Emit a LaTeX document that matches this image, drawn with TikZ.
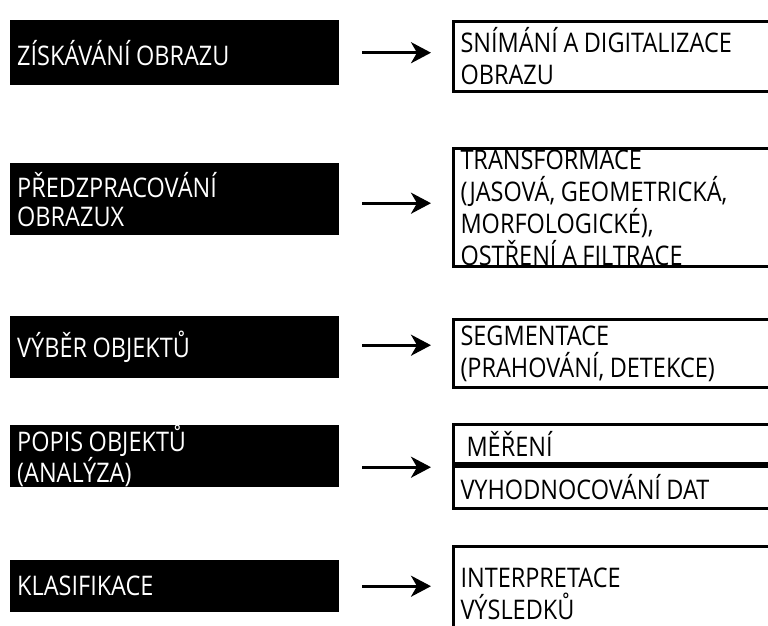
\documentclass[tikz,border=0pt]{standalone}
\usepackage{fontspec}
\setmainfont{Open Sans}[FakeStretch=0.87]
\usetikzlibrary{arrows.meta}
\newcommand\myleftfont{\fontsize{27}{29}\selectfont\spaceskip=5.5pt plus 1pt\relax}
\newcommand\myrightfont{\fontsize{27}{32}\selectfont\spaceskip=5.5pt plus 1pt\relax}
\tikzset{
  blackbox/.style={fill=black, text=white, anchor=north west, minimum width=327pt,
    text width=315pt, inner xsep=7pt, inner ysep=0pt, align=left,
    execute at begin node=\myleftfont},
  whitebox/.style={draw=black, line width=3pt, fill=white, anchor=north west,
    minimum width=360pt, text width=348pt, inner xsep=7pt, inner ysep=0pt, align=left,
    execute at begin node=\myrightfont},
  arr/.style={line width=3pt, -{Stealth[length=20pt,width=21pt,inset=6pt]},
    shorten <=23pt, shorten >=21pt}
}
\begin{document}
\begin{tikzpicture}[x=1pt,y=-1pt]
\useasboundingbox (0,0) rectangle (768,625);
\clip (0,0) rectangle (768,625);
% row 1
\node[blackbox, minimum height=65pt] (b1) at (10,20) {ZÍSKÁVÁNÍ OBRAZU};
\node[whitebox, minimum height=70pt] (r1) at (452,20) {SNÍMÁNÍ A DIGITALIZACE\\OBRAZU};
\draw[arr] (b1.east) -- (b1.east -| r1.west);
% row 2
\node[blackbox, minimum height=72pt] (b2) at (10,163) {PŘEDZPRACOVÁNÍ\\OBRAZUX};
\node[whitebox, minimum height=118pt] (r2) at (452,147) {TRANSFORMACE\\(JASOVÁ, GEOMETRICKÁ,\\MORFOLOGICKÉ),\\OSTŘENÍ A FILTRACE};
\draw[arr] ([yshift=-4pt]b2.east) -- ([yshift=-4pt]b2.east -| r2.west);
% row 3
\node[blackbox, minimum height=62pt] (b3) at (10,316) {VÝBĚR OBJEKTŮ};
\node[whitebox, minimum height=68pt] (r3) at (452,318) {SEGMENTACE\\(PRAHOVÁNÍ, DETEKCE)};
\draw[arr] ([yshift=2pt]b3.east) -- ([yshift=2pt]b3.east -| r3.west);
% row 4
\node[blackbox, minimum height=62pt] (b4) at (10,425) {POPIS OBJEKTŮ\\(ANALÝZA)};
\node[whitebox, minimum height=39pt] (r4a) at (452,423) {\hspace*{6pt}MĚŘENÍ};
\node[whitebox, minimum height=42pt] (r4b) at (r4a.south west) {VYHODNOCOVÁNÍ DAT};
\draw[arr] ([yshift=-11pt]b4.east) -- ([yshift=-11pt]b4.east -| r4a.west);
% row 5
\node[blackbox, minimum height=52pt] (b5) at (10,560) {KLASIFIKACE};
\node[whitebox, minimum height=95pt] (r5) at (452,545) {INTERPRETACE\\VÝSLEDKŮ};
\draw[arr] (b5.east) -- (b5.east -| r5.west);
\end{tikzpicture}
\end{document}
